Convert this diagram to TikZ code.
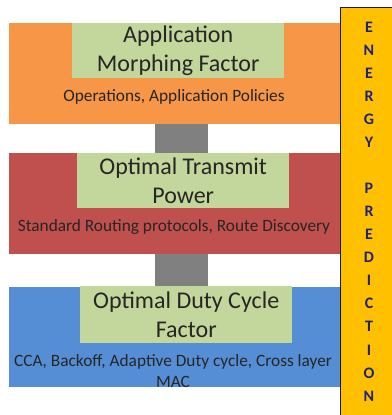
\documentclass[tikz,border=0pt]{standalone}
\usepackage{fontspec}
\setmainfont{Carlito}
\usetikzlibrary{positioning}

\definecolor{bandorange}{HTML}{F79646}
\definecolor{bandred}{HTML}{C0504D}
\definecolor{bandblue}{HTML}{558ED5}
\definecolor{boxgreen}{HTML}{C3D69B}
\definecolor{baryellow}{HTML}{FFC000}
\definecolor{barnavy}{HTML}{1F2280}
\definecolor{inktext}{HTML}{262626}

\begin{document}
\begin{tikzpicture}[x=1pt,y=-1pt,
  band/.style={anchor=north west,inner sep=0pt,minimum width=331pt},
  factor/.style={anchor=north west,inner sep=0pt,fill=boxgreen,minimum width=212pt,
    align=center,text=inktext,font=\fontsize{24}{29.5}\selectfont},
  detail/.style={align=center,text=inktext,font=\fontsize{17.3}{21}\selectfont},
  link/.style={draw=gray,line width=53pt}]
\useasboundingbox (0,0) rectangle (391,415);

% Bands
\node[band,fill=bandorange,minimum height=101pt] (appband) at (9,23) {};
\node[band,fill=bandred,minimum height=101pt] (powband) at (9,153) {};
\node[band,fill=bandblue,minimum height=100pt] (dutyband) at (9,287) {};

% Links between the bands
\draw[link] ([xshift=7pt]appband.south) -- ([xshift=7pt]powband.north);
\draw[link] ([xshift=7pt]powband.south) -- ([xshift=7pt]dutyband.north);

% Factors
\node[factor,minimum height=55pt] (appfactor) at (72,23) {Application\\Morphing Factor};
\node[factor,minimum height=55pt] (powfactor) at (77,153) {Optimal Transmit\\Power};
\node[factor,minimum height=57pt] (dutyfactor) at (80,286) {Optimal Duty Cycle\\Factor};

% Layer details
\node[detail] (appdetail) at (174,97) {Operations, Application Policies};
\node[detail] (powdetail) at (174,227) {Standard Routing protocols, Route Discovery};
\node[detail] (dutydetail) at (173,371) {CCA, Backoff, Adaptive Duty cycle, Cross layer\\MAC};

% Energy prediction bar
\fill[baryellow] (340,7) rectangle (395,420);
\draw[barnavy!70!black,line width=1pt] (340,420) -- (340,7) -- (395,7);
\node[align=center,text=barnavy,font=\fontsize{16}{23.06}\selectfont\bfseries] (energy) at (369,211.5)
  {E\\N\\E\\R\\G\\Y\\ \\P\\R\\E\\D\\I\\C\\T\\I\\O\\N};

\end{tikzpicture}
\end{document}
